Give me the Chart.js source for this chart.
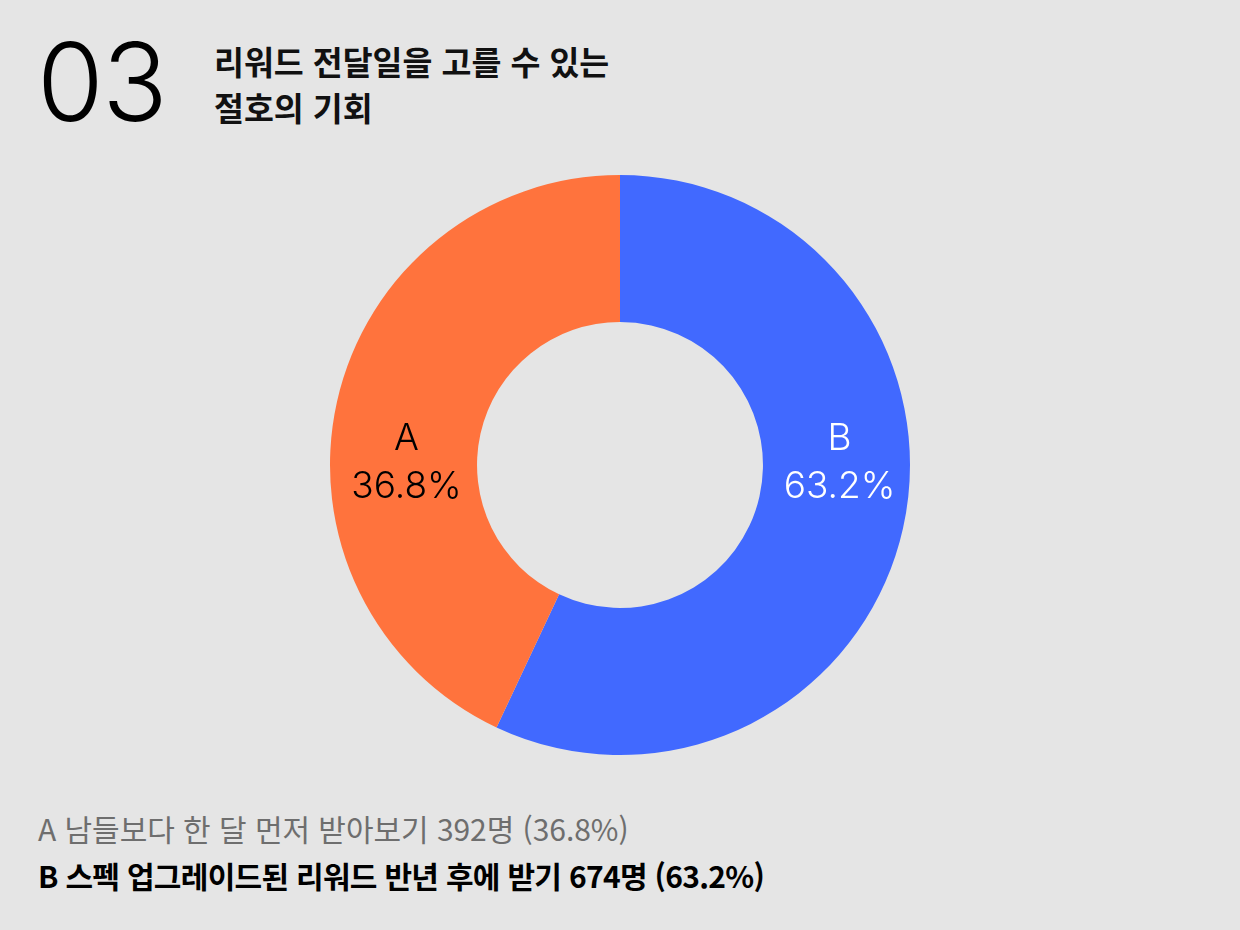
<!DOCTYPE html>
<html lang="ko">
<head>
<meta charset="utf-8">
<script src="https://cdn.jsdelivr.net/npm/chart.js@4/dist/chart.umd.min.js"></script>
<style>
  html, body { margin: 0; padding: 0; }
  body {
    width: 1240px; height: 930px; background: #e5e5e5; position: relative; overflow: hidden;
    font-family: "Noto Sans CJK KR", "Noto Sans", sans-serif;
  }
  #num {
    position: absolute; left: 37px; top: 22px; font-family: "Inter", "Noto Sans", sans-serif;
    font-weight: 300; font-size: 108px; line-height: 120px; color: #000; letter-spacing: -1.5px;
  }
  #title {
    position: absolute; left: 214px; top: 38px; font-size: 32.5px; font-weight: 700;
    line-height: 46px; color: #111; letter-spacing: 0px;
  }
  #wrap { position: absolute; left: 320px; top: 165px; width: 600px; height: 600px; }
  .leg { position: absolute; left: 38px; font-size: 30px; line-height: 40px; }
  #legA { top: 808px; color: #6e6e6e; font-weight: 400; letter-spacing: -0.05px; }
  #legB { top: 855px; color: #000; font-weight: 700; letter-spacing: -0.7px; }
</style>
</head>
<body>
<div id="num">03</div>
<div id="title">리워드 전달일을 고를 수 있는<br>절호의 기회</div>
<div id="wrap"><canvas id="chartDona"></canvas></div>
<div class="leg" id="legA"></div>
<div class="leg" id="legB"></div>
<script>
const categorias = ['B', 'A'];
const valores = [63.2, 36.8];          // porcentajes escritos en la imagen
const arcos = [57.0, 43.0];            // tamaño de cada arco tal como se ve dibujado
const personas = [674, 392];
const descripciones = ['스펙 업그레이드된 리워드 반년 후에 받기', '남들보다 한 달 먼저 받아보기'];
const colores = ['#4169ff', '#ff733d'];
const coloresTexto = ['#ffffff', '#000000'];

document.getElementById('legA').textContent =
    `${categorias[1]} ${descripciones[1]} ${personas[1]}명 (${valores[1]}%)`;
document.getElementById('legB').textContent =
    `${categorias[0]} ${descripciones[0]} ${personas[0]}명 (${valores[0]}%)`;

// etiquetas dentro de cada arco, a la izquierda / derecha del centro
const etiquetas = {
    id: 'etiquetas',
    afterDatasetsDraw(chart) {
        const ctx = chart.ctx;
        const meta = chart.getDatasetMeta(0);
        meta.data.forEach((arc, i) => {
            const p = arc.getProps(['x', 'y', 'innerRadius', 'outerRadius', 'startAngle', 'endAngle']);
            const mid = (p.startAngle + p.endAngle) / 2;
            const lado = Math.cos(mid) >= 0 ? 1 : -1;
            const r = (p.innerRadius + p.outerRadius) / 2;
            const x = p.x + lado * r + 3;
            ctx.save();
            ctx.fillStyle = coloresTexto[i];
            ctx.textAlign = 'center';
            ctx.textBaseline = 'middle';
            ctx.font = '300 37px Inter, "Noto Sans", sans-serif';
            ctx.fillText(categorias[i], x, p.y - 26);
            ctx.fillText(valores[i].toFixed(1) + '%', x, p.y + 22);
            ctx.restore();
        });
    }
};

const canvas = document.getElementById('chartDona');
new Chart(canvas.getContext('2d'), {
    type: 'doughnut',
    data: {
        labels: categorias,
        datasets: [{
            data: arcos,
            backgroundColor: colores,
            borderWidth: 0
        }]
    },
    options: {
        responsive: true,
        maintainAspectRatio: false,
        animation: false,
        cutout: '49.3%',
        layout: { padding: 10 },
        plugins: { legend: { display: false }, tooltip: { enabled: false } }
    },
    plugins: [etiquetas]
});
</script>
</body>
</html>
